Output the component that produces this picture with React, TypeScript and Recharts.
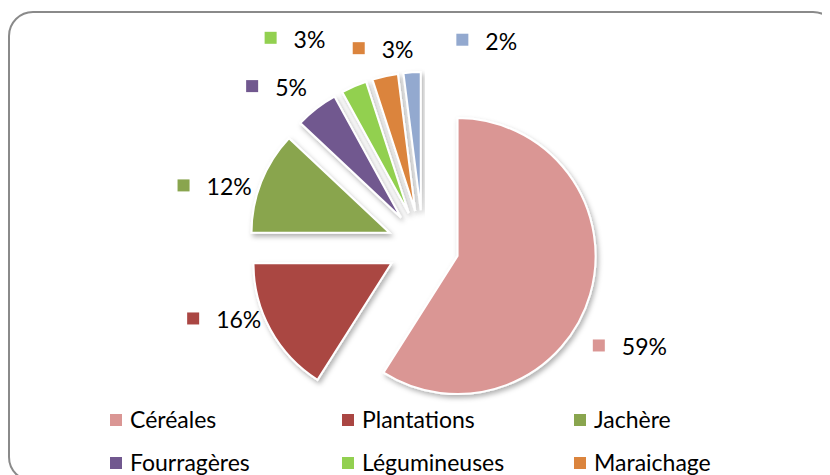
import React from 'react';
import { PieChart, Pie, Cell, Sector, Legend } from 'recharts';

const categories = ['Céréales', 'Plantations', 'Jachère', 'Fourragères', 'Légumineuses', 'Maraichage', 'Autres'];
const shares = [59, 16, 12, 5, 3, 3, 2];
const percentLabels = ['59%', '16%', '12%', '5%', '3%', '3%', '2%'];
const colors = ['#DA9694', '#AA4643', '#89A54E', '#71588F', '#92D050', '#DB843D', '#93A9CF'];

const data = categories.map((name, i) => ({ name, value: shares[i] }));

const FONT = 'Lato, "Open Sans", sans-serif';
const EXPLODE = 36;
const RAD = Math.PI / 180;
// label placement (style): radius from pie centre and clockwise shift from the slice mid-angle
const labelRadius = [202, 241, 247, 234, 258, 208, 210];
const labelAngleShift = [13.3, 11.3, -7.4, -9.1, -12.8, -5.4, 14.4];

const renderSector = (props: any) => {
  const { cx, cy, midAngle } = props;
  const dx = EXPLODE * Math.cos(-midAngle * RAD);
  const dy = EXPLODE * Math.sin(-midAngle * RAD);
  return (
    <Sector
      {...props}
      cx={cx + dx}
      cy={cy + dy}
      stroke="#ffffff"
      strokeWidth={2}
      filter="url(#sliceShadow)"
    />
  );
};

const renderLabel = (props: any) => {
  const { cx, cy, midAngle, index } = props;
  const a = (midAngle - labelAngleShift[index]) * RAD;
  const x = cx + labelRadius[index] * Math.cos(-a);
  const y = cy + labelRadius[index] * Math.sin(-a);
  return (
    <g key={`lbl-${index}`}>
      <rect x={x - 6} y={y - 6} width={12} height={12} fill={colors[index]} />
      <text
        x={x + 23}
        y={y + 1}
        dominantBaseline="central"
        fontFamily={FONT}
        fontSize={23}
        fill="#000"
      >
        {percentLabels[index]}
      </text>
    </g>
  );
};

const renderLegend = () => (
  <div
    style={{
      display: 'grid',
      gridTemplateColumns: '232px 232px 232px',
      gridAutoRows: '43px',
      paddingLeft: 102,
      fontFamily: FONT,
      fontSize: 23,
      color: '#000',
    }}
  >
    {categories.map((name, i) => (
      <div key={name} style={{ display: 'flex', alignItems: 'center' }}>
        <span style={{ display: 'inline-block', width: 12, height: 12, background: colors[i], marginRight: 8 }} />
        <span style={{ lineHeight: '43px' }}>{name}</span>
      </div>
    ))}
  </div>
);

export default function App() {
  return (
    <div style={{ position: 'relative', width: 830, height: 475, fontFamily: FONT }}>
      <svg width={0} height={0} style={{ position: 'absolute' }}>
        <defs>
          <filter id="sliceShadow" x="-20%" y="-20%" width="140%" height="140%">
            <feDropShadow dx={2} dy={3} stdDeviation={2.5} floodColor="#000" floodOpacity={0.3} />
          </filter>
        </defs>
      </svg>
      <div
        style={{
          position: 'absolute',
          left: 0,
          top: 3,
          width: 830,
          height: 471,
          border: '2px solid #8a8a8a',
          borderRadius: 25,
          boxSizing: 'border-box',
        }}
      />
      <div style={{ position: 'absolute', left: 0, top: 0 }}>
        <PieChart width={830} height={530}>
          <Pie
            data={data}
            dataKey="value"
            nameKey="name"
            cx={410}
            cy={233}
            outerRadius={138}
            startAngle={90}
            endAngle={-270}
            isAnimationActive={false}
            labelLine={false}
            label={renderLabel}
            shape={renderSector}
            stroke="#ffffff"
            strokeWidth={2}
          >
            {data.map((d, i) => (
              <Cell key={d.name} fill={colors[i]} />
            ))}
          </Pie>
          <Legend
            content={renderLegend}
            wrapperStyle={{ position: 'absolute', left: 0, top: 390, width: 830 }}
          />
        </PieChart>
      </div>
    </div>
  );
}
